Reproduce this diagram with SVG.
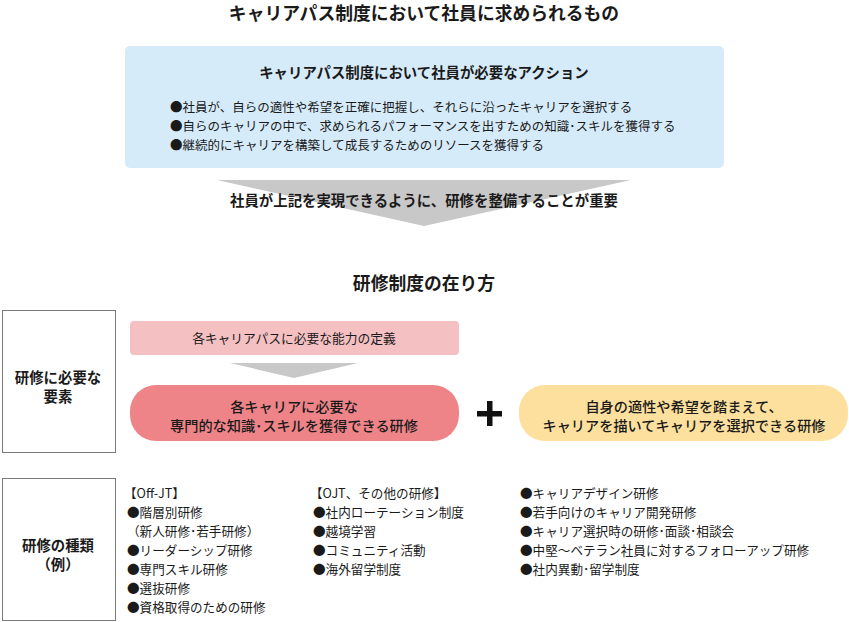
<svg xmlns="http://www.w3.org/2000/svg" width="849" height="622" viewBox="0 0 849 622">
<style>
text { font-family: "Noto Sans CJK JP", "Noto Sans", sans-serif; fill: #1a1a1a; }
.h { font-size: 17.8px; font-weight: bold; text-anchor: middle; }
.b { font-size: 14.4px; font-weight: bold; text-anchor: middle; }
.s { font-size: 14.4px; font-weight: bold; text-anchor: middle; }
.t { font-size: 12.5px; }
.m { font-size: 12.75px; text-anchor: middle; }
.mb { font-size: 14.2px; text-anchor: middle; font-weight: 500; }
.l { font-size: 12.6px; }
.side { fill: #ffffff; stroke: #7a7a7a; stroke-width: 1; }
.arrow { fill: #c8c8c8; }
</style>
<rect width="849" height="622" fill="#ffffff"/>

<g id="title">
<text class="h" x="424" y="20">キャリアパス制度において社員に求められるもの</text>
</g>

<g id="actions">
<rect x="125" y="46" width="599" height="122" rx="5" fill="#d6ebf9"/>
<text class="b" x="424" y="78">キャリアパス制度において社員が必要なアクション</text>
<text class="t" x="170" y="112">●社員が、自らの適性や希望を正確に把握し、それらに沿ったキャリアを選択する</text>
<text class="t" x="170" y="131">●自らのキャリアの中で、求められるパフォーマンスを出すための知識･スキルを獲得する</text>
<text class="t" x="170" y="150">●継続的にキャリアを構築して成長するためのリソースを獲得する</text>
</g>

<g id="connectors">
<polygon class="arrow" points="217,180 631,180 424,226"/>
<polygon class="arrow" points="230,363 358,363 294,378"/>
</g>

<g id="arrow-label">
<text class="b" x="424" y="206">社員が上記を実現できるように、研修を整備することが重要</text>
</g>

<g id="section-title">
<text class="h" x="424" y="290">研修制度の在り方</text>
</g>

<g id="side-elements">
<rect class="side" x="2.5" y="310.5" width="113" height="142"/>
<text class="s" x="58" y="383">研修に必要な</text>
<text class="s" x="58" y="402">要素</text>
</g>

<g id="ability-definition">
<rect x="130" y="321" width="329" height="34" rx="4" fill="#f5c0c2"/>
<text class="m" x="294" y="342.5">各キャリアパスに必要な能力の定義</text>
</g>

<g id="specialized-training">
<rect x="130" y="385" width="329" height="56" rx="26" fill="#ef8488"/>
<text class="mb" x="294" y="412">各キャリアに必要な</text>
<text class="mb" x="294" y="430.5">専門的な知識･スキルを獲得できる研修</text>
</g>

<g id="plus">
<rect x="477" y="411" width="25" height="5.5" fill="#111111"/>
<rect x="487" y="401" width="5.5" height="25" fill="#111111"/>
</g>

<g id="career-training">
<rect x="519" y="385" width="329" height="56" rx="26" fill="#fde09e"/>
<text class="mb" x="684" y="412">自身の適性や希望を踏まえて、</text>
<text class="mb" x="684" y="430.5">キャリアを描いてキャリアを選択できる研修</text>
</g>

<g id="side-types">
<rect class="side" x="2.5" y="478.5" width="113" height="142"/>
<text class="s" x="58" y="550.5">研修の種類</text>
<text class="s" x="58" y="569.5">（例）</text>
</g>

<g id="offjt">
<text class="l" x="124" y="498">【Off-JT】</text>
<text class="l" x="127" y="517">●階層別研修</text>
<text class="l" x="127" y="536">（新人研修･若手研修）</text>
<text class="l" x="127" y="555">●リーダーシップ研修</text>
<text class="l" x="127" y="574">●専門スキル研修</text>
<text class="l" x="127" y="593">●選抜研修</text>
<text class="l" x="127" y="612">●資格取得のための研修</text>
</g>

<g id="ojt">
<text class="l" x="310" y="498">【OJT、その他の研修】</text>
<text class="l" x="313" y="517">●社内ローテーション制度</text>
<text class="l" x="313" y="536">●越境学習</text>
<text class="l" x="313" y="555">●コミュニティ活動</text>
<text class="l" x="313" y="574">●海外留学制度</text>
</g>

<g id="career">
<text class="l" x="520" y="498">●キャリアデザイン研修</text>
<text class="l" x="520" y="517">●若手向けのキャリア開発研修</text>
<text class="l" x="520" y="536">●キャリア選択時の研修･面談･相談会</text>
<text class="l" x="520" y="555">●中堅～ベテラン社員に対するフォローアップ研修</text>
<text class="l" x="520" y="574">●社内異動･留学制度</text>
</g>
</svg>
